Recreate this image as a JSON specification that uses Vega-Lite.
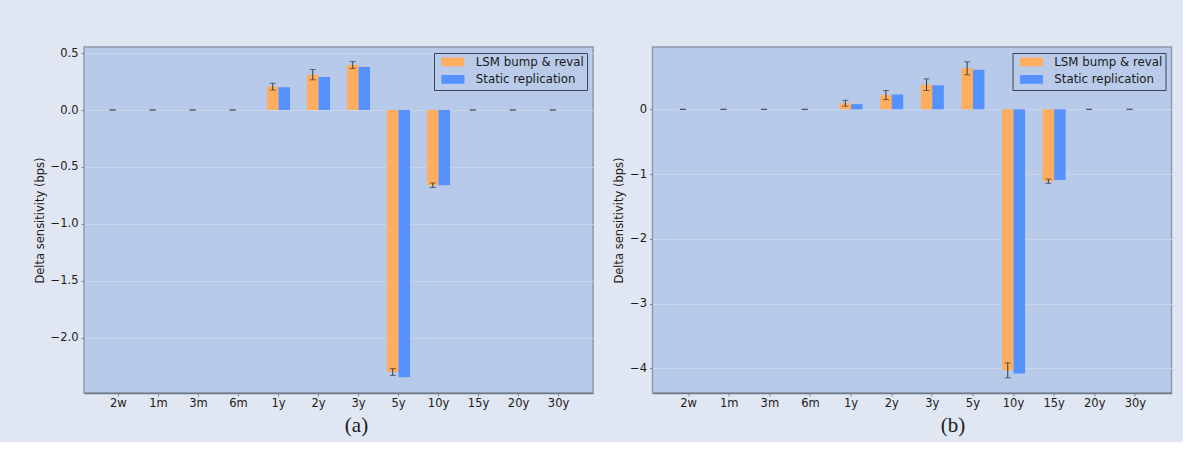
{
  "$schema": "https://vega.github.io/schema/vega-lite/v6.json",
  "background": "#e0e7f3",
  "padding": {"left": 33, "top": 46, "right": 10, "bottom": 5},
  "spacing": 18.5,
  "datasets": {
    "a": [
      {"tenor": "2w", "series": "LSM bump & reval", "value": 0, "lo": 0, "hi": 0},
      {"tenor": "2w", "series": "Static replication", "value": 0},
      {"tenor": "1m", "series": "LSM bump & reval", "value": 0, "lo": 0, "hi": 0},
      {"tenor": "1m", "series": "Static replication", "value": 0},
      {"tenor": "3m", "series": "LSM bump & reval", "value": 0, "lo": 0, "hi": 0},
      {"tenor": "3m", "series": "Static replication", "value": 0},
      {"tenor": "6m", "series": "LSM bump & reval", "value": 0, "lo": 0, "hi": 0},
      {"tenor": "6m", "series": "Static replication", "value": 0},
      {"tenor": "1y", "series": "LSM bump & reval", "value": 0.205, "lo": 0.175, "hi": 0.235},
      {"tenor": "1y", "series": "Static replication", "value": 0.2},
      {"tenor": "2y", "series": "LSM bump & reval", "value": 0.31, "lo": 0.265, "hi": 0.355},
      {"tenor": "2y", "series": "Static replication", "value": 0.29},
      {"tenor": "3y", "series": "LSM bump & reval", "value": 0.395, "lo": 0.365, "hi": 0.425},
      {"tenor": "3y", "series": "Static replication", "value": 0.378},
      {"tenor": "5y", "series": "LSM bump & reval", "value": -2.3, "lo": -2.33, "hi": -2.27},
      {"tenor": "5y", "series": "Static replication", "value": -2.346},
      {"tenor": "10y", "series": "LSM bump & reval", "value": -0.66, "lo": -0.68, "hi": -0.64},
      {"tenor": "10y", "series": "Static replication", "value": -0.66},
      {"tenor": "15y", "series": "LSM bump & reval", "value": 0, "lo": 0, "hi": 0},
      {"tenor": "15y", "series": "Static replication", "value": 0},
      {"tenor": "20y", "series": "LSM bump & reval", "value": 0, "lo": 0, "hi": 0},
      {"tenor": "20y", "series": "Static replication", "value": 0},
      {"tenor": "30y", "series": "LSM bump & reval", "value": 0, "lo": 0, "hi": 0},
      {"tenor": "30y", "series": "Static replication", "value": 0}
    ],
    "b": [
      {"tenor": "2w", "series": "LSM bump & reval", "value": 0, "lo": 0, "hi": 0},
      {"tenor": "2w", "series": "Static replication", "value": 0},
      {"tenor": "1m", "series": "LSM bump & reval", "value": 0, "lo": 0, "hi": 0},
      {"tenor": "1m", "series": "Static replication", "value": 0},
      {"tenor": "3m", "series": "LSM bump & reval", "value": 0, "lo": 0, "hi": 0},
      {"tenor": "3m", "series": "Static replication", "value": 0},
      {"tenor": "6m", "series": "LSM bump & reval", "value": 0, "lo": 0, "hi": 0},
      {"tenor": "6m", "series": "Static replication", "value": 0},
      {"tenor": "1y", "series": "LSM bump & reval", "value": 0.093, "lo": 0.047, "hi": 0.139},
      {"tenor": "1y", "series": "Static replication", "value": 0.08},
      {"tenor": "2y", "series": "LSM bump & reval", "value": 0.22, "lo": 0.15, "hi": 0.29},
      {"tenor": "2y", "series": "Static replication", "value": 0.23},
      {"tenor": "3y", "series": "LSM bump & reval", "value": 0.38, "lo": 0.29, "hi": 0.47},
      {"tenor": "3y", "series": "Static replication", "value": 0.37},
      {"tenor": "5y", "series": "LSM bump & reval", "value": 0.633, "lo": 0.533, "hi": 0.733},
      {"tenor": "5y", "series": "Static replication", "value": 0.61},
      {"tenor": "10y", "series": "LSM bump & reval", "value": -4.03, "lo": -4.146, "hi": -3.914},
      {"tenor": "10y", "series": "Static replication", "value": -4.08},
      {"tenor": "15y", "series": "LSM bump & reval", "value": -1.11, "lo": -1.143, "hi": -1.077},
      {"tenor": "15y", "series": "Static replication", "value": -1.09},
      {"tenor": "20y", "series": "LSM bump & reval", "value": 0, "lo": 0, "hi": 0},
      {"tenor": "20y", "series": "Static replication", "value": 0},
      {"tenor": "30y", "series": "LSM bump & reval", "value": 0, "lo": 0, "hi": 0},
      {"tenor": "30y", "series": "Static replication", "value": 0}
    ]
  },
  "config": {
    "view": {"fill": "#b7caea", "stroke": "#8e99aa", "strokeWidth": 1.5},
    "font": "DejaVu Sans",
    "axis": {
      "labelFont": "DejaVu Sans", "labelFontSize": 11.5, "labelColor": "#1a1a1a",
      "titleFont": "DejaVu Sans", "titleFontSize": 11.5, "titleFontWeight": "normal", "titleColor": "#1a1a1a",
      "tickColor": "#7d8796", "tickSize": 3, "domain": false
    },
    "axisX": {"grid": false, "labelAngle": 0, "labelPadding": 1, "domain": true, "domainColor": "#6f7886", "domainWidth": 1.5},
    "axisY": {"grid": true, "gridColor": "#cad5ea", "gridWidth": 1, "labelPadding": 3, "titlePadding": 5},
    "legend": {
      "orient": "top-right", "offset": 6, "padding": 3, "title": null,
      "strokeColor": "#3b4454", "fillColor": "#b9cbe9",
      "labelFont": "DejaVu Sans", "labelFontSize": 11.8, "labelColor": "#1a1a1a", "labelOffset": 17,
      "symbolType": "M-2.6,-1H2.6V1H-2.6Z", "symbolSize": 78, "symbolStrokeWidth": 0, "symbolOffset": 10,
      "rowPadding": 4.5, "cornerRadius": 0
    },
    "title": {"font": "Liberation Serif", "fontSize": 21, "fontWeight": "normal", "color": "#1a1a1a", "orient": "bottom", "offset": 6}
  },
  "hconcat": [
    {
      "width": 509, "height": 346,
      "title": {"text": "(a)", "dx": 18},
      "data": {"name": "a"},
      "encoding": {
        "x": {"field": "tenor", "type": "nominal", "sort": null, "title": null,
              "scale": {"domain": ["2w","1m","3m","6m","1y","2y","3y","5y","10y","15y","20y","30y"], "paddingInner": 0, "paddingOuter": 0.36}},
        "xOffset": {"field": "series", "type": "nominal", "scale": {"domain": ["LSM bump & reval", "Static replication"], "paddingInner": 0, "paddingOuter": 0.74}}
      },
      "layer": [
        {
          "mark": {"type": "bar"},
          "encoding": {
            "y": {"field": "value", "type": "quantitative", "title": "Delta sensitivity (bps)",
                  "scale": {"domain": [-2.484, 0.553], "nice": false, "zero": false},
                  "axis": {"values": [-2, -1.5, -1, -0.5, 0, 0.5], "format": ".1f"}},
            "color": {"field": "series", "type": "nominal",
                      "scale": {"domain": ["LSM bump & reval", "Static replication"], "range": ["#ffad5e", "#5592fd"]}}
          }
        },
        {
          "transform": [{"filter": "isValid(datum.lo)"}],
          "mark": {"type": "rule", "color": "#3a3a3a", "strokeWidth": 1},
          "encoding": {"y": {"field": "lo", "type": "quantitative"}, "y2": {"field": "hi"}}
        },
        {
          "transform": [{"filter": "isValid(datum.lo)"}],
          "mark": {"type": "tick", "orient": "horizontal", "color": "#3a3a3a", "size": 6, "thickness": 1},
          "encoding": {"y": {"field": "lo", "type": "quantitative"}}
        },
        {
          "transform": [{"filter": "isValid(datum.hi)"}],
          "mark": {"type": "tick", "orient": "horizontal", "color": "#3a3a3a", "size": 6, "thickness": 1},
          "encoding": {"y": {"field": "hi", "type": "quantitative"}}
        }
      ]
    },
    {
      "width": 519, "height": 346,
      "title": {"text": "(b)", "dx": 41},
      "data": {"name": "b"},
      "encoding": {
        "x": {"field": "tenor", "type": "nominal", "sort": null, "title": null,
              "scale": {"domain": ["2w","1m","3m","6m","1y","2y","3y","5y","10y","15y","20y","30y"], "paddingInner": 0, "paddingOuter": 0.39}},
        "xOffset": {"field": "series", "type": "nominal", "scale": {"domain": ["LSM bump & reval", "Static replication"], "paddingInner": 0, "paddingOuter": 0.76}}
      },
      "layer": [
        {
          "mark": {"type": "bar"},
          "encoding": {
            "y": {"field": "value", "type": "quantitative", "title": "Delta sensitivity (bps)",
                  "scale": {"domain": [-4.38, 0.962], "nice": false, "zero": false},
                  "axis": {"values": [-4, -3, -2, -1, 0], "format": "d"}},
            "color": {"field": "series", "type": "nominal",
                      "scale": {"domain": ["LSM bump & reval", "Static replication"], "range": ["#ffad5e", "#5592fd"]}}
          }
        },
        {
          "transform": [{"filter": "isValid(datum.lo)"}],
          "mark": {"type": "rule", "color": "#3a3a3a", "strokeWidth": 1},
          "encoding": {"y": {"field": "lo", "type": "quantitative"}, "y2": {"field": "hi"}}
        },
        {
          "transform": [{"filter": "isValid(datum.lo)"}],
          "mark": {"type": "tick", "orient": "horizontal", "color": "#3a3a3a", "size": 6, "thickness": 1},
          "encoding": {"y": {"field": "lo", "type": "quantitative"}}
        },
        {
          "transform": [{"filter": "isValid(datum.hi)"}],
          "mark": {"type": "tick", "orient": "horizontal", "color": "#3a3a3a", "size": 6, "thickness": 1},
          "encoding": {"y": {"field": "hi", "type": "quantitative"}}
        }
      ]
    }
  ],
  "resolve": {"scale": {"color": "independent", "y": "independent", "x": "independent", "xOffset": "independent"}, "legend": {"color": "independent"}}
}
